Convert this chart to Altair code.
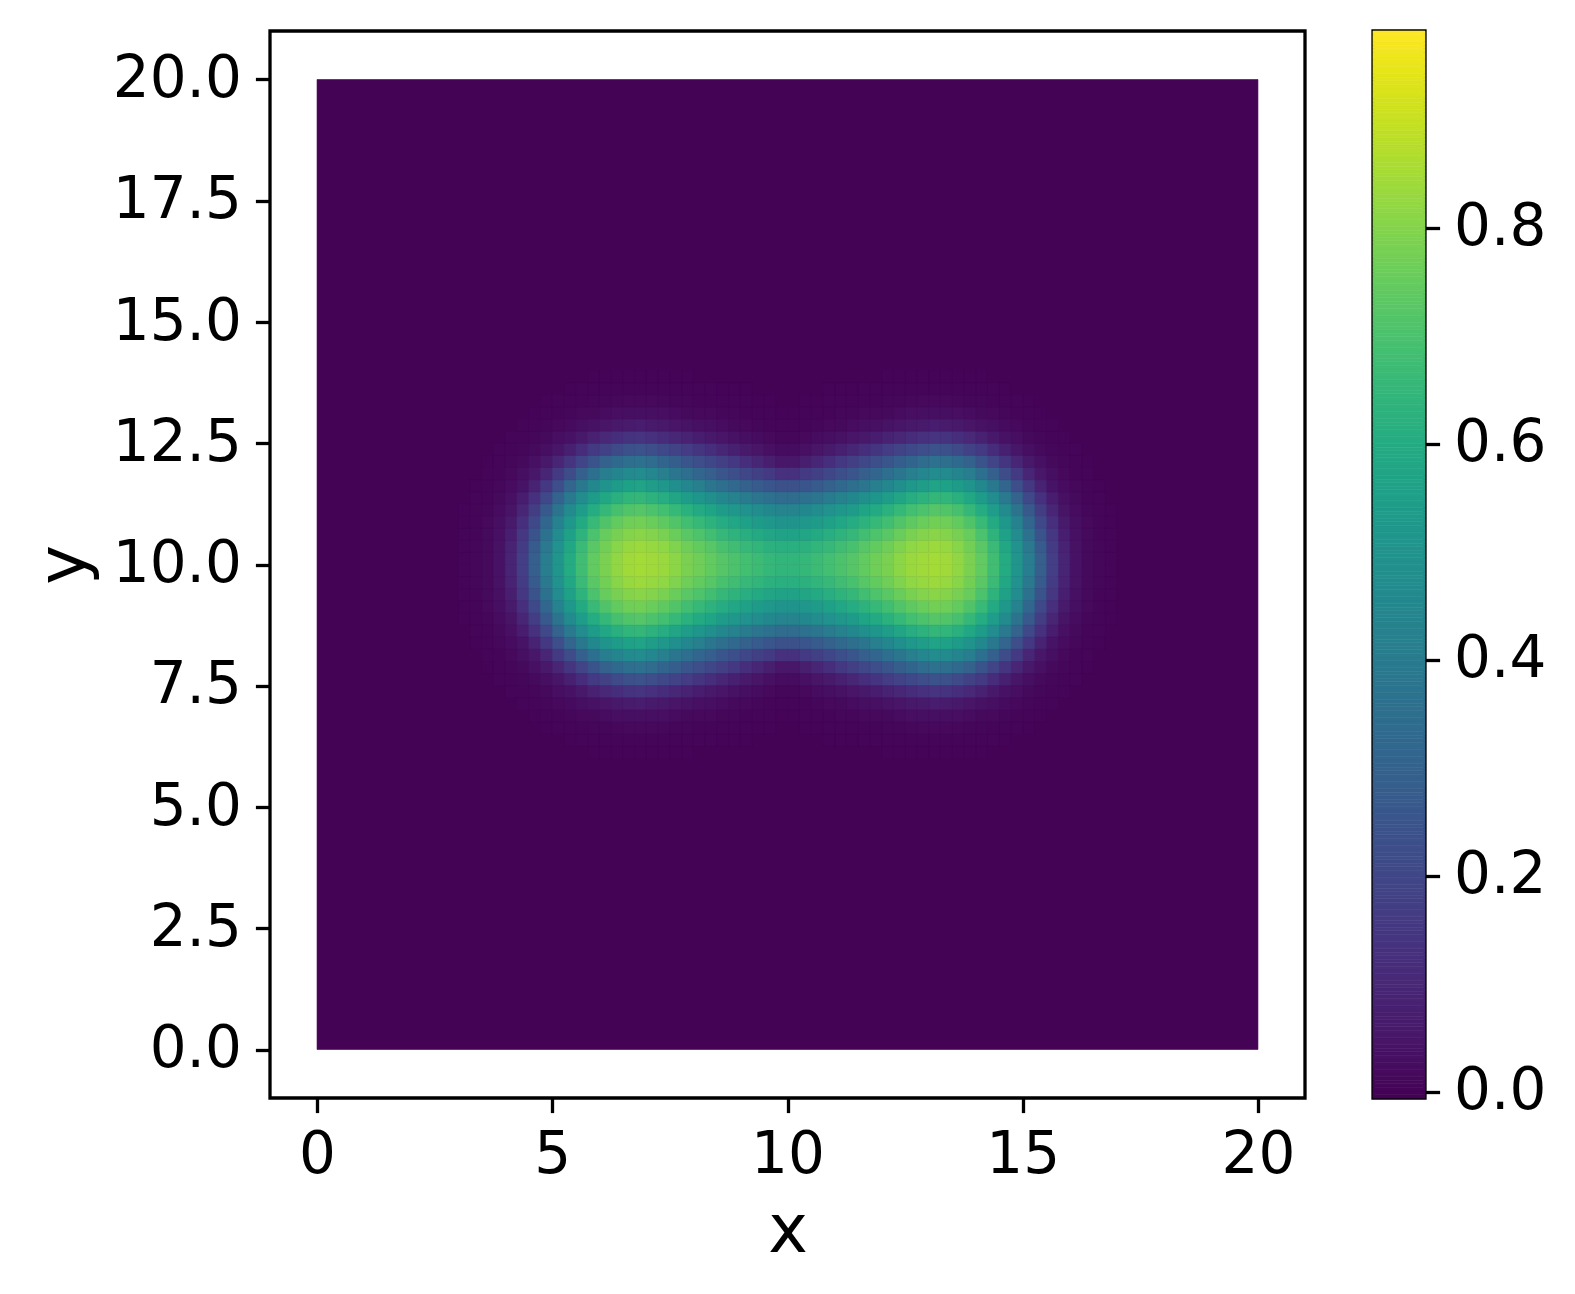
import altair as alt
import pandas as pd
import numpy as np

# ---------------- data ----------------
# The field is symmetric about x = 10 and y = 10; values were read on a
# 0.25-wide cell grid in the upper-left quadrant of the blob region.
X_CENTERS = [2.875, 3.125, 3.375, 3.625, 3.875, 4.125, 4.375, 4.625, 4.875, 5.125,
             5.375, 5.625, 5.875, 6.125, 6.375, 6.625, 6.875, 7.125, 7.375, 7.625,
             7.875, 8.125, 8.375, 8.625, 8.875, 9.125, 9.375, 9.625, 9.875]
Y_CENTERS = [10.125, 10.375, 10.625, 10.875, 11.125, 11.375, 11.625, 11.875,
             12.125, 12.375, 12.625, 12.875, 13.125, 13.375, 13.625, 13.875]

FIELD_ROWS = [
    [0, 0.003, 0.008, 0.018, 0.039, 0.090, 0.172, 0.286, 0.406, 0.508, 0.598, 0.679, 0.742, 0.784, 0.819, 0.841, 0.848,
     0.842, 0.832, 0.811, 0.785, 0.765, 0.745, 0.720, 0.704, 0.684, 0.669, 0.653, 0.643],
    [0, 0.003, 0.008, 0.018, 0.037, 0.085, 0.165, 0.273, 0.392, 0.494, 0.584, 0.664, 0.728, 0.772, 0.805, 0.828, 0.835,
     0.827, 0.815, 0.793, 0.766, 0.745, 0.722, 0.696, 0.679, 0.658, 0.642, 0.626, 0.614],
    [0, 0.003, 0.007, 0.016, 0.033, 0.075, 0.151, 0.247, 0.363, 0.468, 0.556, 0.635, 0.702, 0.751, 0.779, 0.799, 0.808,
     0.798, 0.782, 0.757, 0.728, 0.705, 0.681, 0.653, 0.635, 0.612, 0.594, 0.576, 0.563],
    [0, 0.002, 0.006, 0.013, 0.029, 0.060, 0.125, 0.209, 0.321, 0.428, 0.516, 0.593, 0.659, 0.710, 0.745, 0.764, 0.770,
     0.757, 0.739, 0.712, 0.682, 0.656, 0.631, 0.602, 0.581, 0.558, 0.538, 0.519, 0.503],
    [0, 0.001, 0.005, 0.010, 0.022, 0.043, 0.093, 0.169, 0.268, 0.371, 0.461, 0.537, 0.602, 0.652, 0.692, 0.712, 0.720,
     0.704, 0.684, 0.655, 0.623, 0.596, 0.569, 0.539, 0.518, 0.493, 0.472, 0.451, 0.435],
    [0, 0, 0.003, 0.007, 0.017, 0.032, 0.067, 0.130, 0.205, 0.302, 0.394, 0.470, 0.533, 0.582, 0.619, 0.641, 0.650,
     0.631, 0.607, 0.576, 0.542, 0.513, 0.485, 0.454, 0.430, 0.404, 0.382, 0.360, 0.341],
    [0, 0, 0.002, 0.006, 0.011, 0.023, 0.042, 0.086, 0.153, 0.225, 0.310, 0.388, 0.452, 0.500, 0.535, 0.556, 0.565,
     0.542, 0.514, 0.480, 0.445, 0.413, 0.383, 0.352, 0.326, 0.299, 0.275, 0.251, 0.231],
    [0, 0, 0, 0.003, 0.007, 0.015, 0.029, 0.052, 0.093, 0.157, 0.219, 0.291, 0.354, 0.406, 0.441, 0.462, 0.470,
     0.445, 0.416, 0.382, 0.347, 0.316, 0.286, 0.255, 0.229, 0.203, 0.179, 0.156, 0.129],
    [0, 0, 0, 0.002, 0.005, 0.009, 0.018, 0.032, 0.055, 0.092, 0.144, 0.190, 0.247, 0.294, 0.329, 0.351, 0.360,
     0.338, 0.312, 0.283, 0.253, 0.226, 0.200, 0.175, 0.152, 0.124, 0.096, 0.072, 0.052],
    [0, 0, 0, 0, 0.003, 0.006, 0.010, 0.018, 0.031, 0.049, 0.079, 0.117, 0.156, 0.181, 0.212, 0.232, 0.240,
     0.224, 0.205, 0.185, 0.164, 0.143, 0.121, 0.096, 0.078, 0.060, 0.045, 0.032, 0.021],
    [0, 0, 0, 0, 0, 0.003, 0.006, 0.010, 0.017, 0.027, 0.038, 0.058, 0.080, 0.103, 0.124, 0.137, 0.142,
     0.130, 0.116, 0.100, 0.084, 0.070, 0.058, 0.047, 0.037, 0.030, 0.021, 0.014, 0.009],
    [0, 0, 0, 0, 0, 0, 0.003, 0.006, 0.009, 0.013, 0.020, 0.029, 0.037, 0.046, 0.057, 0.064, 0.067,
     0.061, 0.055, 0.047, 0.040, 0.033, 0.029, 0.023, 0.018, 0.013, 0.010, 0.007, 0.004],
    [0, 0, 0, 0, 0, 0, 0, 0.002, 0.004, 0.007, 0.009, 0.013, 0.018, 0.023, 0.027, 0.030, 0.031,
     0.029, 0.026, 0.022, 0.018, 0.015, 0.013, 0.010, 0.008, 0.007, 0.005, 0.003, 0.002],
    [0, 0, 0, 0, 0, 0, 0, 0, 0.002, 0.003, 0.004, 0.007, 0.008, 0.010, 0.012, 0.013, 0.014,
     0.013, 0.011, 0.010, 0.009, 0.007, 0.006, 0.005, 0.004, 0.003, 0.002, 0.001, 0],
    [0, 0, 0, 0, 0, 0, 0, 0, 0, 0, 0.002, 0.003, 0.004, 0.004, 0.006, 0.006, 0.006,
     0.006, 0.006, 0.004, 0.004, 0.003, 0.003, 0.002, 0.002, 0.001, 0, 0, 0],
    [0, 0, 0, 0, 0, 0, 0, 0, 0, 0, 0, 0, 0.001, 0.002, 0.002, 0.002, 0.002,
     0.002, 0.002, 0.002, 0.001, 0, 0, 0, 0, 0, 0, 0, 0],
]

CELL = 0.25                           # mesh cell size
MIRROR_X, MIRROR_Y = 10.0, 10.0       # symmetry lines of the field
MESH_X = [0.0, 20.0]                  # extent of the mesh
MESH_Y = [0.0, 20.0]
BACKGROUND_VALUE = 0.0                # value of the field away from the blobs
COLOR_MIN, COLOR_MAX = -0.006, 0.982  # colour-bar range
X_TICKS = [0, 5, 10, 15, 20]
Y_TICKS = [0.0, 2.5, 5.0, 7.5, 10.0, 12.5, 15.0, 17.5, 20.0]
CB_TICKS = [0.0, 0.2, 0.4, 0.6, 0.8]

# ---------------- build tables ----------------
cells = [dict(x0=MESH_X[0], x1=MESH_X[1], y0=MESH_Y[0], y1=MESH_Y[1], v=BACKGROUND_VALUE)]
for yc, row in zip(Y_CENTERS, FIELD_ROWS):
    for xc, v in zip(X_CENTERS, row):
        if v <= 0:
            continue
        for mx in (xc, 2 * MIRROR_X - xc):
            for my in (yc, 2 * MIRROR_Y - yc):
                cells.append(dict(x0=mx - CELL / 2, x1=mx + CELL / 2,
                                  y0=my - CELL / 2, y1=my + CELL / 2, v=v))
field_df = pd.DataFrame(cells)

levels = np.linspace(COLOR_MIN, COLOR_MAX, 301)
cb_df = pd.DataFrame({"lo": levels[:-1], "hi": levels[1:], "mid": (levels[:-1] + levels[1:]) / 2})

color_scale = alt.Scale(scheme="viridis", domain=[COLOR_MIN, COLOR_MAX])
pos_scale = alt.Scale(domain=[-1, 21], nice=False, zero=False)

heat = alt.Chart(field_df).mark_rect(strokeWidth=0.6).encode(
    x=alt.X("x0:Q", scale=pos_scale,
            axis=alt.Axis(values=X_TICKS, format="d", title="x", titlePadding=14)),
    x2="x1:Q",
    y=alt.Y("y0:Q", scale=pos_scale,
            axis=alt.Axis(values=Y_TICKS, format=".1f", title="y", titlePadding=14)),
    y2="y1:Q",
    color=alt.Color("v:Q", scale=color_scale, legend=None),
    stroke=alt.Stroke("v:Q", scale=color_scale, legend=None),
).properties(width=1035, height=1067)

colorbar = alt.Chart(cb_df).mark_rect(strokeWidth=0.6).encode(
    x=alt.value(0), x2=alt.value(52),
    y=alt.Y("lo:Q", scale=alt.Scale(domain=[COLOR_MIN, COLOR_MAX], nice=False, zero=False),
            axis=alt.Axis(orient="right", values=CB_TICKS, format=".1f", title=None)),
    y2="hi:Q",
    color=alt.Color("mid:Q", scale=color_scale, legend=None),
    stroke=alt.Stroke("mid:Q", scale=color_scale, legend=None),
).properties(width=52, height=1067)

chart = alt.hconcat(heat, colorbar, spacing=64).properties(
    padding={"left": 28, "top": 29, "right": 10, "bottom": 10},
    background="white",
).configure_view(
    stroke="black", strokeWidth=3.3
).configure_axis(
    grid=False, domain=False,
    tickColor="black", tickWidth=3.3, tickSize=14.6,
    labelFont="DejaVu Sans", labelFontSize=58, labelColor="black", labelPadding=14,
    titleFont="DejaVu Sans", titleFontSize=67, titleFontWeight="normal", titleColor="black",
).configure_concat(spacing=64)

chart.save("out.html", embed_options={"renderer": "svg", "actions": False})
